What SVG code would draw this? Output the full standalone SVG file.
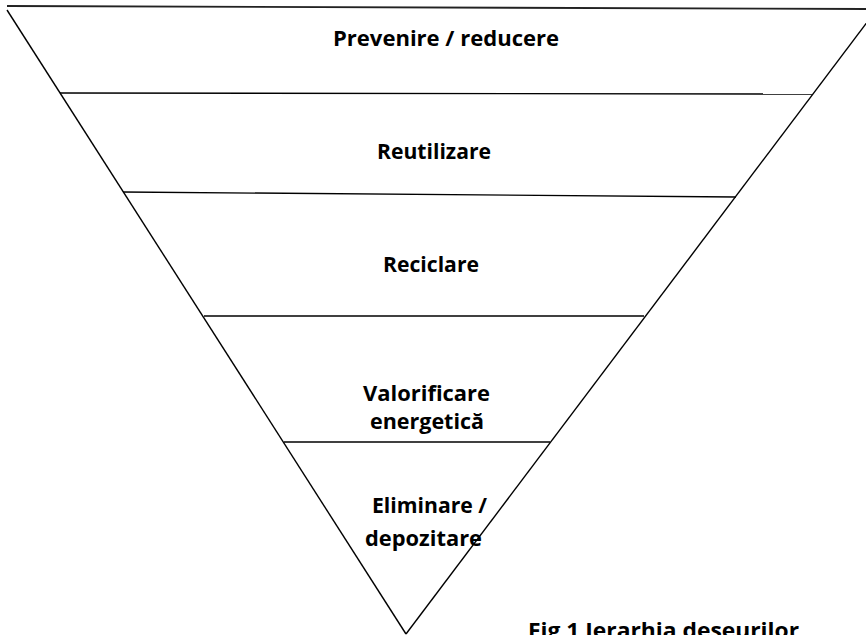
<svg xmlns="http://www.w3.org/2000/svg" width="866" height="635" viewBox="0 0 866 635">
<style>
.ln{stroke:#000;stroke-width:1.4;fill:none}
.t{font-family:"Open Sans","Liberation Sans",sans-serif;font-weight:bold;font-size:20.5px;fill:#000}
</style>
<rect width="866" height="635" fill="#fff"/>
<g id="connectors">
<line class="ln" x1="7" y1="6" x2="866" y2="9" style="stroke-width:1.8;stroke:#222"/>
<line class="ln" x1="7" y1="10" x2="406" y2="634"/>
<line class="ln" x1="877" y1="9" x2="406" y2="634"/>
</g>
<g id="band1"><line class="ln" x1="60" y1="93" x2="813" y2="94"/></g>
<g id="band2"><line class="ln" x1="123" y1="192" x2="736" y2="197"/></g>
<g id="band3"><line class="ln" x1="204" y1="316" x2="644" y2="316"/></g>
<g id="band4"><line class="ln" x1="284" y1="442" x2="550" y2="442"/></g>
<g id="prevenire"><text class="t" x="333" y="46" textLength="226" lengthAdjust="spacingAndGlyphs">Prevenire / reducere</text></g>
<g id="reutilizare"><text class="t" x="377" y="159" textLength="114" lengthAdjust="spacingAndGlyphs">Reutilizare</text></g>
<g id="reciclare"><text class="t" x="383" y="272" textLength="96" lengthAdjust="spacingAndGlyphs">Reciclare</text></g>
<g id="valorificare">
<text class="t" x="363" y="401" textLength="127" lengthAdjust="spacingAndGlyphs">Valorificare</text>
<text class="t" x="370" y="429" textLength="114" lengthAdjust="spacingAndGlyphs">energetică</text>
</g>
<g id="eliminare">
<text class="t" x="372" y="513" textLength="115" lengthAdjust="spacingAndGlyphs">Eliminare /</text>
<text class="t" x="365" y="546" textLength="117" lengthAdjust="spacingAndGlyphs">depozitare</text>
</g>
<g id="caption"><text class="t" x="528" y="638" textLength="271" lengthAdjust="spacingAndGlyphs">Fig 1 Ierarhia deseurilor</text></g>
</svg>
